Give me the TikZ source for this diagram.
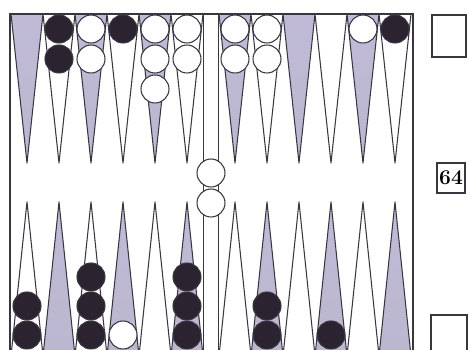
\documentclass[tikz,border=0pt]{standalone}
\usepackage{tikz}
\definecolor{boardLine}{HTML}{3A3640}
\definecolor{pointShade}{HTML}{BCB7D0}
\definecolor{shadeTop}{HTML}{C0BAD6}
\definecolor{shadeMid}{HTML}{BCC4BE}
\definecolor{stoneBlack}{HTML}{2B2430}
\tikzset{
    stone/.style={circle, draw=boardLine, line width=0.6pt, minimum size=0.56cm, inner sep=0pt},
    wstone/.style={stone, fill=white},
    bstone/.style={stone, fill=stoneBlack},
    pointline/.style={draw=boardLine, line width=0.6pt, line join=round},
    shadept/.style={pointline, top color=shadeTop, middle color=shadeMid, bottom color=pointShade},
    frameline/.style={draw=boardLine, line width=1.1pt},
    cubebox/.style={draw=boardLine, line width=0.9pt, fill=white, inner sep=0pt, align=center}
}

\begin{document}
\begin{tikzpicture}[x=0.02cm, y=-0.02cm]
    \useasboundingbox (0,0) rectangle (470,350);
    \clip (0,0) rectangle (470,350);
    % points
    \foreach \x in {27,91,155,235,299,363}{
        \draw[shadept] (\x-16,14) -- (\x,163) -- (\x+16,14) -- cycle;
        \draw[pointline, fill=white] (\x-16,356) -- (\x,202) -- (\x+16,356) -- cycle;
    }
    \foreach \x in {59,123,187,267,331,395}{
        \draw[pointline, fill=white] (\x-16,14) -- (\x,163) -- (\x+16,14) -- cycle;
        \draw[shadept] (\x-16,356) -- (\x,202) -- (\x+16,356) -- cycle;
    }
    % frame and bar
    \draw[frameline] (10,356) -- (10,14) -- (413,14) -- (413,356);
    \draw[pointline, line width=0.8pt, fill=white] (203.5,14) rectangle (218.5,356);
    % checkers
    \foreach \x/\n/\c in {59/2/bstone,91/2/wstone,123/1/bstone,155/3/wstone,187/2/wstone,235/2/wstone,267/2/wstone,363/1/wstone,395/1/bstone}{
        \foreach \k in {1,...,\n}
            \node[\c] (top-\x-\k) at (\x,{29+30*(\k-1)}) {};
    }
    \foreach \x/\n/\c in {27/2/bstone,91/3/bstone,123/1/wstone,187/3/bstone,267/2/bstone,331/1/bstone}{
        \foreach \k in {1,...,\n}
            \node[\c] (bot-\x-\k) at (\x,{335-29*(\k-1)}) {};
    }
    \node[wstone] (bar-1) at (211,173) {};
    \node[wstone] (bar-2) at (211,203) {};
    % side boxes
    \node[cubebox, minimum width=0.68cm, minimum height=0.84cm] (box-top) at (449,36) {};
    \node[cubebox, minimum width=0.56cm, minimum height=0.6cm, font=\fontsize{12}{12}\selectfont\bfseries] (cube) at (451,178) {64};
    \node[cubebox, minimum width=0.72cm, minimum height=0.8cm] (box-bot) at (449,335) {};
\end{tikzpicture}
\end{document}
